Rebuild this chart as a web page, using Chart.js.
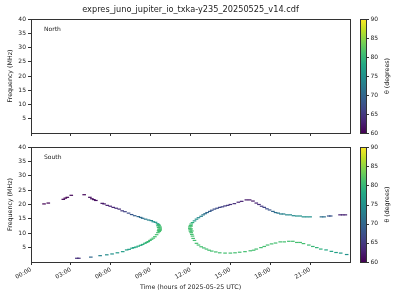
<!DOCTYPE html>
<html>
<head>
<meta charset="utf-8">
<script src="https://cdn.jsdelivr.net/npm/chart.js@4/dist/chart.umd.min.js"></script>
<style>
body { margin: 0; background: #fff; }
#wrap { position: relative; width: 400px; height: 300px; }
canvas { position: absolute; left: 0; }
</style>
</head>
<body>
<div id="wrap">
  <canvas id="north" width="400" height="140" style="top:0;width:400px;height:140px"></canvas>
  <canvas id="south" width="400" height="160" style="top:140px;width:400px;height:160px"></canvas>
</div>
<script>
var fileTitle = "expres_juno_jupiter_io_txka-y235_20250525_v14.cdf";
var xTitle = "Time (hours of 2025-05-25 UTC)";
var yTitle = "Frequency (MHz)";
var cbTitle = "θ (degrees)";
var hourTicks = [0, 3, 6, 9, 12, 15, 18, 21];
var freqTicks = [5, 10, 15, 20, 25, 30, 35, 40];
var thetaTicks = [60, 65, 70, 75, 80, 85, 90];

// north hemisphere: nothing in this file
var northTime = [];
var northFreq = [];
var northTheta = [];

// south hemisphere (hours, MHz, degrees), one arc at a time
// first arc, high branch
var arc1HighTime = [0.98, 1.3, 2.43, 2.58, 2.73, 3.03, 4.0, 4.43, 4.58, 4.73, 4.88, 5.36, 5.5, 5.74, 5.96, 6.19, 6.41, 6.64,
  6.86, 7.07, 7.34, 7.57, 7.8, 8.07, 8.25, 8.4, 8.62, 8.85, 9.05, 9.2, 9.37, 9.52];
var arc1HighFreq = [20.2, 20.5, 21.8, 22.2, 22.5, 23.2, 23.4, 22.5, 22.0, 21.7, 21.4, 20.4, 20.2, 19.7, 19.4, 19.0, 18.7, 18.4,
  17.8, 17.5, 17.0, 16.5, 16.1, 15.8, 15.5, 15.2, 14.9, 14.6, 14.4, 14.0, 13.8, 13.3];
var arc1HighTheta = [60, 60, 60, 60, 60, 60.5, 60.5, 61, 61, 61, 61, 62, 62, 62.5, 63, 63, 64, 64,
  65, 66, 67, 68, 69, 70, 70.5, 71, 72, 73, 74, 75, 76, 77];
// first arc, nose and low branch
var arc1LowTime = [9.6, 9.65, 9.7, 9.72, 9.72, 9.7, 9.65, 9.55, 9.55, 9.6, 9.62, 9.6,
  9.45, 9.32, 9.2, 9.07, 8.95, 8.82, 8.7, 8.57, 8.4, 8.25, 8.07, 7.9, 7.74, 7.6, 7.38, 7.2, 6.9, 6.5, 6.1, 5.7, 5.2, 4.5, 3.45, 3.6];
var arc1LowFreq = [13.0, 12.6, 12.2, 11.8, 11.4, 11.0, 10.6, 10.2, 12.6, 12.0, 11.4, 10.9,
  9.5, 8.8, 8.3, 7.9, 7.5, 7.1, 6.8, 6.5, 6.1, 5.8, 5.5, 5.2, 5.0, 4.8, 4.4, 4.2, 3.6, 3.2, 2.8, 2.5, 2.2, 1.7, 1.3, 1.3];
var arc1LowTheta = [80, 80.5, 81, 81, 81, 81, 81, 81, 80, 80.5, 81, 81,
  81, 81, 81, 81, 80.5, 80, 80, 79.5, 79, 78.5, 78.5, 78, 78, 77.5, 77, 77, 76.5, 76, 75, 74.5, 73, 70, 64, 64];
// second arc, nose and high branch
var arc2HighTime = [12.15, 12.05, 12.0, 11.95, 11.95, 11.97, 12.0, 12.05, 12.05, 12.05, 12.1,
  12.3, 12.45, 12.6, 12.8, 12.95, 13.1, 13.25, 13.45, 13.6, 13.8, 14.0, 14.2, 14.4, 14.6, 14.8, 15.0, 15.3, 15.6, 15.85,
  16.2, 16.45, 16.7, 16.95, 17.15, 17.35, 17.55, 17.75, 17.95, 18.2, 18.4, 18.6, 18.8, 19.0, 19.25, 19.5, 19.75, 20.0,
  20.25, 20.5, 20.75, 21.0, 21.85, 22.05, 22.4, 22.55, 23.25, 23.45, 23.65];
var arc2HighFreq = [13.7, 13.2, 12.7, 12.2, 11.7, 11.2, 10.7, 10.2, 12.5, 11.5, 10.8,
  14.3, 14.9, 15.4, 15.9, 16.4, 16.8, 17.2, 17.6, 18.0, 18.4, 18.7, 19.0, 19.2, 19.5, 19.7, 20.0, 20.3, 20.8, 21.1,
  21.6, 21.6, 21.2, 20.5, 20.0, 19.4, 19.0, 18.5, 18.1, 17.6, 17.2, 17.0, 16.7, 16.7, 16.4, 16.4, 16.1, 16.0,
  16.0, 15.7, 15.7, 15.7, 15.7, 15.7, 16.0, 16.0, 16.4, 16.4, 16.4];
var arc2HighTheta = [79, 80, 81, 81, 81, 81, 81, 81, 81, 81, 81,
  76, 75, 74, 73, 72, 71, 70, 69, 68, 67, 67, 66, 66, 65, 65, 64, 64, 63, 63,
  62, 62, 62, 63, 64, 65, 66, 67, 68, 70, 71, 72, 73, 73, 74, 74, 74, 75,
  75, 75, 75, 75, 71, 71, 68, 68, 63, 63, 63];
// second arc, low branch
var arc2LowTime = [12.1, 12.15, 12.2, 12.3, 12.45, 12.6, 12.8, 13.0, 13.2, 13.4, 13.6, 13.9, 14.2, 14.6, 15.0, 15.35, 15.7,
  16.1, 16.5, 16.75, 16.95, 17.3, 17.55, 17.8, 18.1, 18.4, 18.75, 19.05, 19.4, 19.7, 20.0, 20.25, 20.5, 20.9, 21.2, 21.5,
  21.8, 22.2, 22.6, 22.95, 23.3, 23.75];
var arc2LowFreq = [9.6, 9.0, 8.2, 7.5, 6.5, 5.9, 5.3, 4.9, 4.5, 4.1, 3.8, 3.5, 3.2, 3.1, 3.1, 3.2, 3.4,
  3.6, 3.9, 4.1, 4.5, 5.0, 5.4, 5.9, 6.3, 6.6, 7.0, 7.0, 7.2, 7.2, 6.8, 6.8, 6.4, 5.9, 5.4, 5.0,
  4.5, 4.2, 3.7, 3.3, 3.1, 2.6];
var arc2LowTheta = [81, 81, 81, 81, 81, 81, 81, 81, 81, 81, 81, 81, 81, 81, 81, 81, 81,
  81, 81, 81, 81, 81, 81, 81, 81, 81, 81, 81, 81, 81, 81, 81, 81, 80.5, 80, 79.5,
  79, 78, 77.5, 77, 76, 75];

var southTime = arc1HighTime.concat(arc1LowTime, arc2HighTime, arc2LowTime);
var southFreq = arc1HighFreq.concat(arc1LowFreq, arc2HighFreq, arc2LowFreq);
var southTheta = arc1HighTheta.concat(arc1LowTheta, arc2HighTheta, arc2LowTheta);

var viridis = ["#440154", "#482475", "#414487", "#355f8d", "#2a788e", "#21918c", "#22a884", "#44bf70", "#7ad151", "#bddf26", "#fde725"];

function hexRgb(h) {
  return [parseInt(h.substr(1, 2), 16), parseInt(h.substr(3, 2), 16), parseInt(h.substr(5, 2), 16)];
}

function viridisColor(theta) {
  var t = Math.max(0, Math.min(1, (theta - 60) / 30)) * 10;
  var i = Math.min(9, Math.floor(t));
  var f = t - i;
  var a = hexRgb(viridis[i]), b = hexRgb(viridis[i + 1]);
  return "rgb(" + Math.round(a[0] + (b[0] - a[0]) * f) + "," + Math.round(a[1] + (b[1] - a[1]) * f) + "," + Math.round(a[2] + (b[2] - a[2]) * f) + ")";
}

var font = "DejaVu Sans";
var ink = "#222";
var spine = "#333";

function pad2(v) { return (v < 10 ? "0" : "") + v; }

function panelPlugin(name, isBottom) {
  return {
    id: "panel",
    afterDraw: function (chart) {
      var ctx = chart.ctx, a = chart.chartArea;
      ctx.save();
      ctx.strokeStyle = spine;
      ctx.lineWidth = 1;
      ctx.strokeRect(Math.round(a.left) + 0.5, Math.round(a.top) + 0.5, Math.round(a.right - a.left), Math.round(a.bottom - a.top));

      ctx.fillStyle = ink;
      ctx.font = "6px '" + font + "'";
      ctx.textAlign = "left";
      ctx.textBaseline = "middle";
      ctx.fillText(name, a.left + 13, a.top + 10);

      // y label
      ctx.save();
      ctx.translate(10, (a.top + a.bottom) / 2);
      ctx.rotate(-Math.PI / 2);
      ctx.textAlign = "center";
      ctx.font = "6.3px '" + font + "'";
      ctx.fillText(yTitle, 0, 0);
      ctx.restore();

      if (!isBottom) {
        ctx.font = "8.2px '" + font + "'";
        ctx.textAlign = "center";
        ctx.fillText(fileTitle, (a.left + a.right) / 2, 10);
      } else {
        ctx.font = "6.3px '" + font + "'";
        ctx.textAlign = "center";
        ctx.fillText(xTitle, (a.left + a.right) / 2, 147);
      }

      // colorbar
      var cx = 360.5, cw = 6;
      var g = ctx.createLinearGradient(0, a.bottom, 0, a.top);
      viridis.forEach(function (c, k) { g.addColorStop(k / 10, c); });
      ctx.fillStyle = g;
      ctx.fillRect(cx, a.top, cw, a.bottom - a.top);
      ctx.strokeStyle = spine;
      ctx.strokeRect(cx, Math.round(a.top) + 0.5, cw, Math.round(a.bottom - a.top));
      ctx.fillStyle = ink;
      ctx.font = "6px '" + font + "'";
      ctx.textAlign = "left";
      thetaTicks.forEach(function (v) {
        var y = a.bottom - (v - 60) / 30 * (a.bottom - a.top);
        ctx.beginPath();
        ctx.moveTo(cx + cw, Math.round(y) + 0.5);
        ctx.lineTo(cx + cw + 2.5, Math.round(y) + 0.5);
        ctx.stroke();
        ctx.fillText(String(v), cx + cw + 4, y);
      });
      ctx.save();
      ctx.translate(387, (a.top + a.bottom) / 2);
      ctx.rotate(-Math.PI / 2);
      ctx.textAlign = "center";
      ctx.font = "6.3px '" + font + "'";
      ctx.fillText(cbTitle, 0, 0);
      ctx.restore();
      ctx.restore();
    }
  };
}

function makePanel(id, name, times, freqs, thetas, isBottom) {
  var pts = times.map(function (t, k) { return { x: t, y: freqs[k] }; });
  var cols = thetas.map(viridisColor);
  return new Chart(document.getElementById(id), {
    type: "scatter",
    data: {
      datasets: [{
        data: pts,
        pointStyle: "line",
        radius: 1.8,
        hoverRadius: 1.8,
        borderWidth: 1.2,
        borderColor: cols,
        backgroundColor: cols
      }]
    },
    options: {
      responsive: false,
      animation: false,
      events: [],
      layout: { padding: { left: 0, right: 50, top: isBottom ? 7 : 19, bottom: 0 } },
      plugins: { legend: { display: false }, tooltip: { enabled: false } },
      scales: {
        x: {
          type: "linear",
          min: 0,
          max: 24,
          afterBuildTicks: function (axis) { axis.ticks = hourTicks.map(function (v) { return { value: v }; }); },
          afterFit: function (axis) { axis.height = isBottom ? 38 : 7; },
          grid: { drawOnChartArea: false, tickLength: 3, color: spine },
          border: { color: spine },
          ticks: {
            font: { family: font, size: 6 },
            color: isBottom ? ink : "rgba(0,0,0,0)",
            minRotation: 30,
            maxRotation: 30,
            padding: 1,
            autoSkip: false,
            callback: function (v) { return pad2(v) + ":00"; }
          }
        },
        y: {
          min: 0,
          max: 40,
          afterBuildTicks: function (axis) { axis.ticks = freqTicks.map(function (v) { return { value: v }; }); },
          afterFit: function (axis) { axis.width = 31; },
          grid: { drawOnChartArea: false, tickLength: 3, color: spine },
          border: { color: spine },
          ticks: { font: { family: font, size: 6 }, color: ink, padding: 2 }
        }
      }
    },
    plugins: [panelPlugin(name, isBottom)]
  });
}

makePanel("north", "North", northTime, northFreq, northTheta, false);
makePanel("south", "South", southTime, southFreq, southTheta, true);
</script>
</body>
</html>
